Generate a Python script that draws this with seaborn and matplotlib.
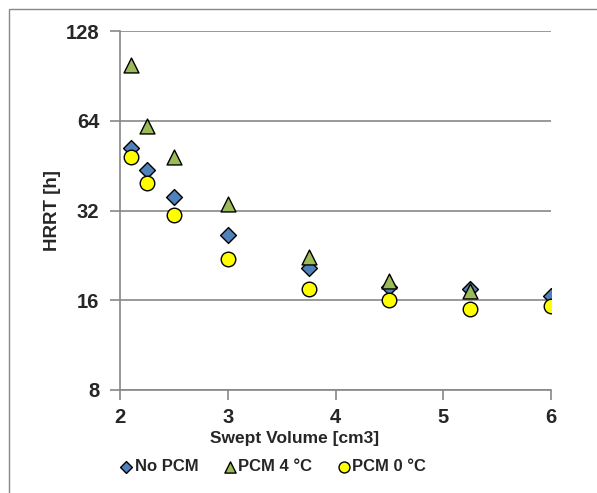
import numpy as np
import pandas as pd
import seaborn as sns
import matplotlib.pyplot as plt
from matplotlib.patches import Rectangle

# values (log2 y axis)
volume = [2.1, 2.25, 2.5, 3.0, 3.75, 4.5, 5.25, 6.0]
hrrt_no_pcm = [51.9, 43.7, 35.6, 26.4, 20.5, 17.7, 17.5, 16.5]
hrrt_pcm4 = [98.4, 61.4, 48.5, 33.6, 22.4, 18.5, 17.2]
hrrt_pcm0 = [48.2, 39.5, 31.0, 22.0, 17.4, 16.0, 15.0, 15.3]
series_names = ["No PCM", "PCM 4 °C", "PCM 0 °C"]
y_ticks = [8, 16, 32, 64, 128]
x_ticks = [2, 3, 4, 5, 6]

frames = []
for name, vals in zip(series_names, [hrrt_no_pcm, hrrt_pcm4, hrrt_pcm0]):
    frames.append(pd.DataFrame({"vol": volume[:len(vals)], "hrrt": vals, "series": name}))
df = pd.concat(frames, ignore_index=True)

sns.set_style("white")
plt.rcParams['font.family'] = ['Liberation Sans', 'DejaVu Sans']
plt.rcParams['font.weight'] = 'bold'

fig = plt.figure(figsize=(5.97, 4.93), dpi=100)
ax = fig.add_axes([0.201, 0.209, 0.722, 0.728])

gray = "#878787"
palette = {"No PCM": "#4F81BD", "PCM 4 °C": "#9BBB59", "PCM 0 °C": "#FFFF00"}
markers = {"No PCM": "D", "PCM 4 °C": "^", "PCM 0 °C": "o"}
sizes = {"No PCM": 65, "PCM 4 °C": 115, "PCM 0 °C": 110}

for name in series_names:
    sub = df[df["series"] == name]
    sns.scatterplot(data=sub, x="vol", y="hrrt", ax=ax, color=palette[name],
                    marker=markers[name], s=sizes[name], edgecolor="black",
                    linewidth=1.0, label=name, zorder=3)

ax.set_yscale("log", base=2)
ax.set_ylim(8, 128)
ax.set_xlim(2, 6)
ax.set_yticks(y_ticks)
ax.set_yticklabels([str(t) for t in y_ticks])
ax.set_xticks(x_ticks)
ax.set_xticklabels([str(t) for t in x_ticks])
ax.minorticks_off()
ax.yaxis.grid(True, color=gray, linewidth=1.2)
ax.set_axisbelow(True)

for side in ["top", "right"]:
    ax.spines[side].set_visible(False)
for side in ["left", "bottom"]:
    ax.spines[side].set_color(gray)
    ax.spines[side].set_linewidth(1.2)

ax.tick_params(axis="both", which="major", length=7, width=1.2, color=gray,
               labelsize=14.5, direction="out", bottom=True, left=True)
ax.tick_params(axis="y", pad=8)
ax.tick_params(axis="x", pad=6)
for lab in ax.get_xticklabels() + ax.get_yticklabels():
    lab.set_fontweight("bold")

ax.set_xlabel("Swept Volume [cm3]", fontsize=12.5, fontweight="bold")
ax.xaxis.set_label_coords(0.404, -0.113)
ax.set_ylabel("HRRT [h]", fontsize=13.5, fontweight="bold", labelpad=3)

leg = ax.legend(loc="center", bbox_to_anchor=(0.457, 0.054), bbox_transform=fig.transFigure,
                ncol=3, frameon=False, handletextpad=0.1, handlelength=0.8,
                columnspacing=1.5, markerscale=0.75,
                prop={"weight": "bold", "size": 12})

# outer chart frame
fig.patches.append(Rectangle((8.5 / 597, -0.1), 1.2, 1.1 - 9.5 / 493,
                             transform=fig.transFigure, fill=False,
                             edgecolor=gray, linewidth=1.0))

fig.savefig("out.png", dpi=100)
